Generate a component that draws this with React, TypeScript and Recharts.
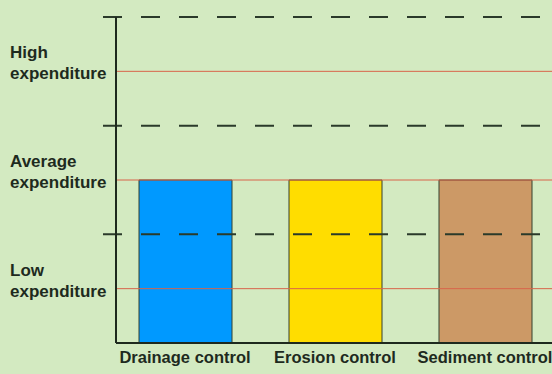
import React from 'react';
import { BarChart, Bar, XAxis, YAxis, ReferenceLine, Cell } from 'recharts';

const categories = ['Drainage control', 'Erosion control', 'Sediment control'];
const spendLevels = [2, 2, 2];
const barColors = ['#0099ff', '#ffdd00', '#cc9966'];
const levelValues = [1, 2, 3];
const levelNames = ['Low', 'Average', 'High'];
const boundaryValues = [1.5, 2.5, 3.5];

const AXIS_X = 116;
const INK = '#1e2a1e';
const FONT = "'Liberation Sans', Arial, sans-serif";

const data = categories.map((name, i) => ({ name, level: spendLevels[i] }));

// y-axis tick: level names as two-line labels, boundaries as long dashed lines
const LevelTick = (props: any) => {
  const { y, payload } = props;
  const idx = levelValues.indexOf(payload.value);
  if (idx >= 0) {
    return (
      <text x={10} y={y} fill={INK} fontSize={17} fontWeight="bold" fontFamily={FONT}>
        <tspan x={10} dy={-13}>{levelNames[idx]}</tspan>
        <tspan x={10} dy={21}>expenditure</tspan>
      </text>
    );
  }
  return (
    <line x1={AXIS_X - 13} x2={560} y1={y} y2={y} stroke="#2a3a2a" strokeWidth={2} strokeDasharray="19 19" />
  );
};

const App: React.FC = () => {
  return (
    <div style={{ position: 'fixed', left: 0, top: 0, width: 552, height: 374, overflow: 'hidden', background: '#d3eac1' }}>
      <BarChart width={560} height={374} data={data} margin={{ top: 17, right: 0, bottom: 0, left: 0 }}>
        <YAxis
          type="number"
          domain={[0.5, 3.5]}
          ticks={[...levelValues, ...boundaryValues]}
          width={AXIS_X}
          tick={<LevelTick />}
          tickLine={false}
          axisLine={false}
          interval={0}
        />
        {levelValues.map((v) => (
          <ReferenceLine key={v} y={v} stroke="#d8644a" strokeWidth={1} />
        ))}
        <XAxis
          dataKey="name"
          height={31}
          padding={{ left: -6, right: 0 }}
          tickLine={false}
          axisLine={{ stroke: INK, strokeWidth: 2 }}
          tick={{ fill: INK, fontSize: 16.5, fontWeight: 'bold', fontFamily: FONT }}
          interval={0}
        />
        <Bar dataKey="level" barSize={93} stroke="#34402f" strokeWidth={1} isAnimationActive={false}>
          {data.map((d, i) => (
            <Cell key={d.name} fill={barColors[i]} />
          ))}
        </Bar>
      </BarChart>
      <div style={{ position: 'absolute', left: AXIS_X - 1, top: 17, width: 2, height: 326, background: INK }} />
    </div>
  );
};

export default App;
